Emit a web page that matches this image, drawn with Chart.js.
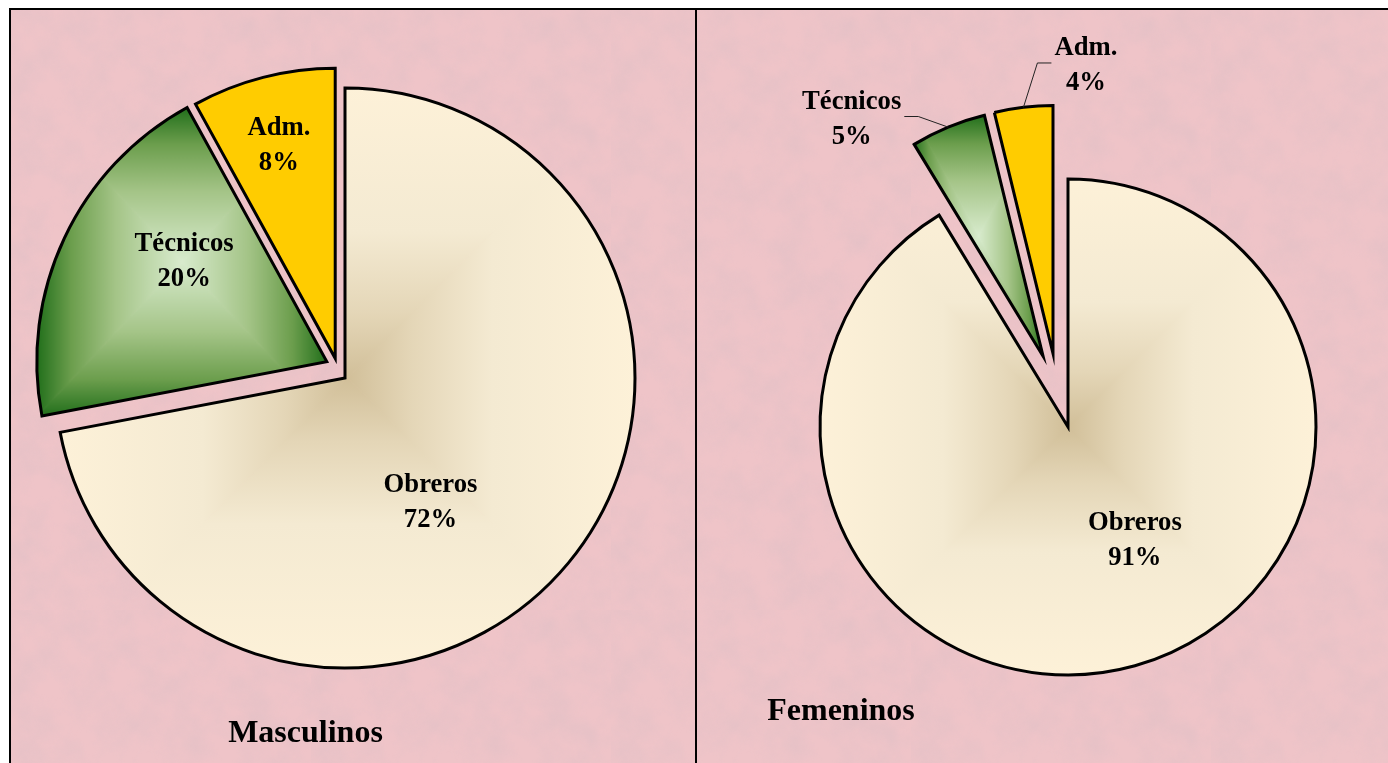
<!DOCTYPE html>
<html>
<head>
<meta charset="utf-8">
<script src="https://cdn.jsdelivr.net/npm/chart.js@4.4.1/dist/chart.umd.min.js"></script>
<style>
  body { margin: 0; background: #fff; width: 1388px; height: 763px; overflow: hidden; position: relative; }
  #frame { position: absolute; left: 9px; top: 8px; width: 1379px; height: 755px; box-sizing: border-box;
           border-top: 2px solid #000; border-left: 2px solid #000; background-color: #efc4c8; }
  #divider { position: absolute; left: 695px; top: 8px; width: 2px; height: 755px; background: #000; z-index: 5; }
  canvas { position: absolute; top: 0; }
</style>
</head>
<body>
<div id="frame"></div>
<canvas id="masc" width="696" height="763" style="left:0"></canvas>
<canvas id="fem" width="691" height="763" style="left:697px"></canvas>
<div id="divider"></div>
<script>
const categories = ['Obreros', 'Técnicos', 'Adm.'];
const masculinos = [72, 20, 8];
const femeninos = [91.3, 4.9, 3.8];
const panelTitles = ['Masculinos', 'Femeninos'];

// mottled pink paper behind both panels
const noise = "<svg xmlns='http://www.w3.org/2000/svg' width='300' height='300'>" +
  "<filter id='n' x='0' y='0'><feTurbulence type='fractalNoise' baseFrequency='0.03' numOctaves='4' seed='7' stitchTiles='stitch'/>" +
  "<feColorMatrix values='0 0 0 0 0.72  0 0 0 0 0.52  0 0 0 0 0.56  0.9 0 0 0 -0.3'/></filter>" +
  "<rect width='300' height='300' filter='url(#n)'/></svg>";
document.getElementById('frame').style.backgroundImage =
  'url("data:image/svg+xml;utf8,' + encodeURIComponent(noise) + '")';

// fill per category: edge -> centre of a rectangular "from centre" gradient
const looks = [
  { flat: '#FBEFD6', stops: [[0, '#FDF1D8'], [0.5, '#F4EAD2'], [0.78, '#E4D6B7'], [1, '#D1BF99']] },
  { flat: '#6FA050', stops: [[0, '#1D6C18'], [0.25, '#6C9E4D'], [0.55, '#A4C487'], [1, '#D8EBCD']] },
  { flat: '#FFCC00' }
];

function sliceBox(area, data, i, R) {
  const cx = (area.left + area.right) / 2, cy = (area.top + area.bottom) / 2;
  const total = data.reduce((s, v) => s + v, 0);
  let start = -Math.PI / 2;
  for (let k = 0; k < i; k++) start += data[k] / total * 2 * Math.PI;
  const end = start + data[i] / total * 2 * Math.PI;
  const pts = [[cx, cy], [cx + R * Math.cos(start), cy + R * Math.sin(start)], [cx + R * Math.cos(end), cy + R * Math.sin(end)]];
  for (let q = 0; q <= 3; q++) {
    const a = q * Math.PI / 2;
    if (a > start && a < end) pts.push([cx + R * Math.cos(a), cy + R * Math.sin(a)]);
  }
  const xs = pts.map(p => p[0]), ys = pts.map(p => p[1]);
  const x0 = Math.min(...xs) - 2, y0 = Math.min(...ys) - 2;
  return { x: x0, y: y0, w: Math.max(...xs) + 2 - x0, h: Math.max(...ys) + 2 - y0 };
}

function boxGradient(ctx, box, stops) {
  const w = Math.ceil(box.w), h = Math.ceil(box.h);
  const off = document.createElement('canvas');
  off.width = w; off.height = h;
  const o = off.getContext('2d');
  const cx = w / 2, cy = h / 2;
  const sides = [
    [0, 0, w, 0, 0, 0, 0, cy],
    [w, h, 0, h, 0, h, 0, cy],
    [0, h, 0, 0, 0, 0, cx, 0],
    [w, 0, w, h, w, 0, cx, 0]
  ];
  sides.forEach(s => {
    const g = o.createLinearGradient(s[4], s[5], s[6], s[7]);
    stops.forEach(st => g.addColorStop(st[0], st[1]));
    o.fillStyle = g;
    o.strokeStyle = g;
    o.lineWidth = 1;
    o.beginPath();
    o.moveTo(s[0], s[1]);
    o.lineTo(s[2], s[3]);
    o.lineTo(cx, cy);
    o.closePath();
    o.fill();
    o.stroke();
  });
  const p = ctx.createPattern(off, 'no-repeat');
  p.setTransform(new DOMMatrix([1, 0, 0, 1, box.x, box.y]));
  return p;
}

function sliceFill(c) {
  const look = looks[c.dataIndex];
  const chart = c.chart;
  if (!look.stops || !chart.chartArea) return look.flat;
  const box = sliceBox(chart.chartArea, c.dataset.data, c.dataIndex, c.dataset.radius);
  return boxGradient(chart.ctx, box, look.stops);
}

// how far (px) and in which direction (deg off the slice middle) a slice is pulled out
function pullOut(arc, opts, i) {
  const a = (arc.startAngle + arc.endAngle) / 2 + (opts.turn[i] || 0) * Math.PI / 180;
  const d = opts.dist[i] || 0;
  return [Math.cos(a) * d, Math.sin(a) * d];
}

// draws slices pulled out of the pie, their labels and the panel title
const piePanel = {
  id: 'piePanel',
  beforeDatasetDraw(chart, args, opts) {
    const ctx = chart.ctx;
    args.meta.data.forEach((arc, i) => {
      const t = pullOut(arc, opts, i);
      ctx.save();
      ctx.translate(t[0], t[1]);
      arc.draw(ctx);
      ctx.restore();
    });
    return false;
  },
  afterDatasetsDraw(chart, args, opts) {
    const ctx = chart.ctx;
    const meta = chart.getDatasetMeta(0);
    const data = chart.data.datasets[0].data;
    const total = data.reduce((s, v) => s + v, 0);
    ctx.save();
    ctx.fillStyle = '#000';
    ctx.textAlign = 'center';
    ctx.textBaseline = 'alphabetic';
    ctx.font = 'bold 26.67px "Liberation Serif", "Times New Roman", serif';
    meta.data.forEach((arc, i) => {
      const mid = (arc.startAngle + arc.endAngle) / 2;
      const t = pullOut(arc, opts, i);
      const sx = arc.x + t[0], sy = arc.y + t[1];
      const shift = opts.place[i][0], frac = opts.place[i][1];
      const a = mid + shift * Math.PI / 180;
      const lx = sx + Math.cos(a) * frac * arc.outerRadius;
      const ly = sy + Math.sin(a) * frac * arc.outerRadius;
      const lines = [chart.data.labels[i], Math.round(data[i] / total * 100) + '%'];
      if (frac > 1) {
        const half = Math.max(...lines.map(s => ctx.measureText(s).width)) / 2;
        const ex = sx + Math.cos(mid) * arc.outerRadius, ey = sy + Math.sin(mid) * arc.outerRadius;
        const side = ex > lx ? 1 : -1;
        const bx = lx + side * (half + 3);
        ctx.beginPath();
        ctx.moveTo(bx, ly);
        ctx.lineTo(bx + side * 14, ly);
        ctx.lineTo(ex, ey);
        ctx.strokeStyle = '#222';
        ctx.lineWidth = 1;
        ctx.stroke();
      }
      ctx.fillText(lines[0], lx, ly - 8);
      ctx.fillText(lines[1], lx, ly + 27);
    });
    ctx.font = 'bold 32px "Liberation Serif", "Times New Roman", serif';
    ctx.fillText(opts.title.text, opts.title.x, opts.title.y);
    ctx.restore();
  }
};

function makePie(id, values, radius, padding, panel) {
  return new Chart(document.getElementById(id), {
    type: 'pie',
    data: {
      labels: categories,
      datasets: [{
        data: values,
        radius: radius,
        backgroundColor: sliceFill,
        borderColor: '#000',
        borderWidth: 3,
        borderJoinStyle: 'miter'
      }]
    },
    options: {
      responsive: false,
      animation: false,
      events: [],
      layout: { padding: padding },
      plugins: {
        legend: { display: false },
        tooltip: { enabled: false },
        piePanel: panel
      }
    },
    plugins: [piePanel]
  });
}

makePie('masc', masculinos, 290, { left: 0, right: 6, top: 0, bottom: 7 }, {
  dist: [0, 24.5, 22],
  turn: [0, 16.8, -12],
  place: [[15.4, 0.514], [10.4, 0.605], [-0.3, 0.766]],
  title: { text: panelTitles[0], x: 305.5, y: 742 }
});

makePie('fem', femeninos, 248, { left: 51, right: 0, top: 91, bottom: 0 }, {
  dist: [0, 75, 75],
  turn: [0, 3.1, -4.7],
  place: [[-15.5, 0.521], [-16.1, 1.237], [13.3, 1.179]],
  title: { text: panelTitles[1], x: 144, y: 720 }
});
</script>
</body>
</html>
